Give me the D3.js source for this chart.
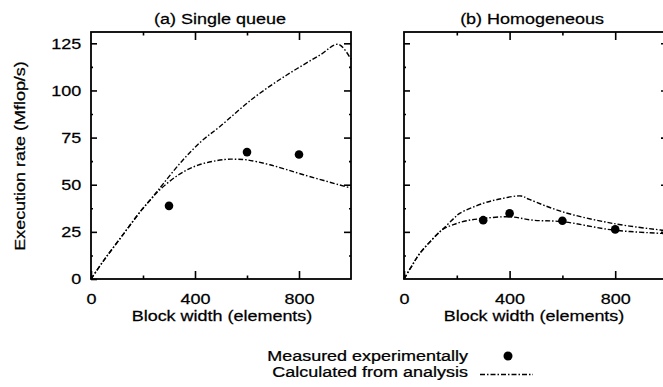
<!DOCTYPE html>
<html>
<head>
<meta charset="utf-8">
<script src="https://cdn.jsdelivr.net/npm/d3@7"></script>
<style>
  body { margin: 0; background: #fff; }
  svg { display: block; }
  text { font-family: "Liberation Sans", Arial, Helvetica, sans-serif; font-size: 15.5px; fill: #000; stroke: #000; stroke-width: 0.25; }
  .legend text { font-size: 14.5px; }
  .frame { fill: none; stroke: #000; stroke-width: 1.8; }
  .tick line { stroke: #000; stroke-width: 1.6; }
  .domain { display: none; }
  .calc { fill: none; stroke: #000; stroke-width: 1.4; stroke-dasharray: 5,2,1.5,2; }
</style>
</head>
<body>
<script>

// ---- data ----
var titles = ["(a) Single queue", "(b) Homogeneous"];
var xLabel = "Block width (elements)",
    yLabel = "Execution rate (Mflop/s)";
var xTickLabels = [0, 400, 800],
    xMinorTicks = [200, 600],
    yTickLabels = [0, 25, 50, 75, 100, 125],
    yMinorTicks = [12.5, 37.5, 62.5, 87.5, 112.5];

// (a) single queue
var measA_x = [300, 600, 800],
    measA_y = [38.8, 67.3, 66];
var calcA1_x = [0, 50, 117, 194, 232, 258, 347, 424, 496, 624, 753, 881, 951, 1000],
    calcA1_y = [0, 10, 22.4, 36.5, 42.7, 47.1, 62.1, 73, 80.9, 95.9, 108.2, 118.8, 124.5, 116.5];
var calcA2_x = [0, 50, 117, 194, 232, 258, 335, 412, 514, 560, 599, 688, 817, 1000],
    calcA2_y = [0, 10, 22.4, 36.5, 42.5, 46.5, 55.1, 60.4, 63.4, 63.5, 63.2, 60.6, 55.3, 48.2];

// (b) homogeneous
var measB_x = [300, 400, 600, 800],
    measB_y = [31.2, 34.8, 30.9, 26.3];
var calcB1_x = [0, 30, 60, 123, 148, 190, 211, 299, 362, 444, 475, 601, 790, 972, 1000],
    calcB1_y = [0, 7, 13.6, 23.3, 26.6, 32.3, 34.8, 40.1, 42.4, 44, 42.2, 35.6, 29.5, 26, 25.6];
var calcB2_x = [0, 30, 60, 123, 148, 190, 237, 299, 400, 488, 601, 790, 972, 1000],
    calcB2_y = [0, 7, 13.6, 23.3, 26.4, 29, 30.9, 32.1, 33, 31.2, 30.4, 26, 24.2, 24];

var legendLabels = ["Measured experimentally", "Calculated from analysis"];

// ---- layout ----
var W = 663, H = 387, sx = 1.16;   // text in the figure is a bit wide
var plotTop = 32, plotBottom = 279;

var svg = d3.select("body").append("svg")
    .attr("width", W)
    .attr("height", H);

var y = d3.scaleLinear().domain([0, 131]).range([plotBottom, plotTop]);

var panels = [
    { title: titles[0], x: d3.scaleLinear().domain([0, 1000]).range([91, 351]),
      meas: zip(measA_x, measA_y), calc: [zip(calcA1_x, calcA1_y), zip(calcA2_x, calcA2_y)], yLabels: true },
    { title: titles[1], x: d3.scaleLinear().domain([0, 1000]).range([404, 668]),
      meas: zip(measB_x, measB_y), calc: [zip(calcB1_x, calcB1_y), zip(calcB2_x, calcB2_y)], yLabels: false }
];

function zip(xs, ys) {
    return xs.map(function(v, i) { return [v, ys[i]]; });
}

// text that is stretched horizontally a bit
function label(parent, x, yy, txt, anchor, rot, stretch) {
    var g = parent.append("g")
        .attr("transform", "translate(" + x + "," + yy + ")" + (rot ? " rotate(" + rot + ")" : "") + " scale(" + (stretch || sx) + ",1)");
    g.append("text").attr("text-anchor", anchor).text(txt);
    return g;
}

panels.forEach(function(p) {
    var x = p.x,
        x0 = x.range()[0], x1 = x.range()[1],
        g = svg.append("g");

    // bottom ticks
    g.append("g").attr("transform", "translate(0," + plotBottom + ")")
        .call(d3.axisBottom(x).tickValues(xTickLabels).tickSizeInner(-8).tickSizeOuter(0).tickPadding(14))
        .selectAll("text").attr("transform", "scale(" + sx + ",1)");
    g.append("g").attr("transform", "translate(0," + plotBottom + ")")
        .call(d3.axisBottom(x).tickValues(xMinorTicks).tickSizeInner(-3.5).tickSizeOuter(0).tickFormat(""));

    // top ticks
    g.append("g").attr("transform", "translate(0," + plotTop + ")")
        .call(d3.axisTop(x).tickValues([400, 800]).tickSizeInner(-8).tickSizeOuter(0).tickFormat(""));
    g.append("g").attr("transform", "translate(0," + plotTop + ")")
        .call(d3.axisTop(x).tickValues(xMinorTicks).tickSizeInner(-3.5).tickSizeOuter(0).tickFormat(""));

    // left ticks
    var yl = g.append("g").attr("transform", "translate(" + x0 + ",0)")
        .call(d3.axisLeft(y).tickValues(p.yLabels ? yTickLabels : yTickLabels.slice(1)).tickSizeInner(-6).tickSizeOuter(0)
            .tickPadding(8.5).tickFormat(p.yLabels ? d3.format("d") : ""));
    yl.selectAll("text").attr("transform", "scale(" + sx + ",1)");
    g.append("g").attr("transform", "translate(" + x0 + ",0)")
        .call(d3.axisLeft(y).tickValues(yMinorTicks).tickSizeInner(-2).tickSizeOuter(0).tickFormat(""));

    // right ticks
    g.append("g").attr("transform", "translate(" + x1 + ",0)")
        .call(d3.axisRight(y).tickValues(yTickLabels.slice(1)).tickSizeInner(-7).tickSizeOuter(0).tickFormat(""));
    g.append("g").attr("transform", "translate(" + x1 + ",0)")
        .call(d3.axisRight(y).tickValues(yMinorTicks).tickSizeInner(-2).tickSizeOuter(0).tickFormat(""));

    // plain text styling for axis labels
    g.selectAll(".tick text").attr("fill", "#000");
    g.selectAll("g").attr("font-size", null).attr("font-family", null);

    // frame
    g.append("rect").attr("class", "frame")
        .attr("x", x0).attr("y", plotTop)
        .attr("width", x1 - x0).attr("height", plotBottom - plotTop);

    // analysis curves
    var line = d3.line()
        .curve(d3.curveCatmullRom.alpha(0.5))
        .x(function(d) { return x(d[0]); })
        .y(function(d) { return y(d[1]); });
    g.selectAll(".calc").data(p.calc).enter().append("path")
        .attr("class", "calc")
        .attr("d", line);

    // measured points
    g.selectAll(".meas").data(p.meas).enter().append("circle")
        .attr("class", "meas")
        .attr("cx", function(d) { return x(d[0]); })
        .attr("cy", function(d) { return y(d[1]); })
        .attr("r", 4.3);

    // titles and x label
    label(g, (x0 + Math.min(x1, 662)) / 2 - 1, 23.5, p.title, "middle");
    label(g, (x0 + Math.min(x1, 662)) / 2 + 1, 321, xLabel, "middle");
});

// y label
label(svg, 25, 156, yLabel, "middle", -90);

// legend
var legend = svg.append("g").attr("class", "legend");
label(legend, 468, 361, legendLabels[0], "end", 0, 1.24);
label(legend, 468, 377.3, legendLabels[1], "end", 0, 1.24);
legend.append("circle").attr("cx", 508).attr("cy", 356).attr("r", 4.5);
legend.append("path").attr("class", "calc")
    .attr("d", d3.line()([[480, 374.5], [533, 374.5]]));

</script>
</body>
</html>
